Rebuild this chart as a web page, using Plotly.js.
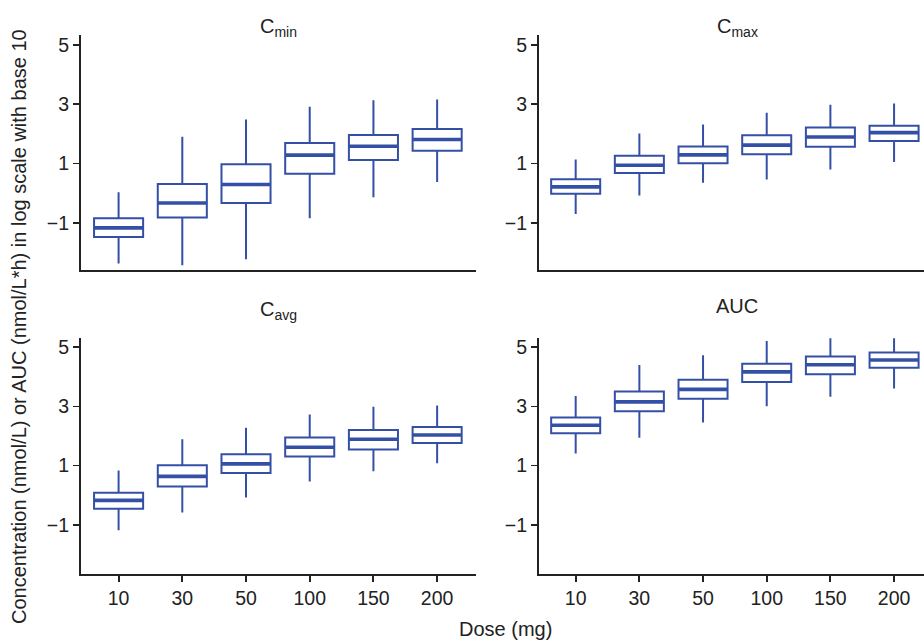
<!DOCTYPE html>
<html>
<head>
<meta charset="utf-8">
<script src="https://cdn.plot.ly/plotly-3.0.1.min.js"></script>
<style>html,body{margin:0;padding:0;background:#fff;}#chart{width:924px;height:643px;}</style>
</head>
<body>
<div id="chart"></div>
<script>
var doses = ['10', '30', '50', '100', '150', '200'];

var cminLow    = [-2.37, -2.43, -2.23, -0.85, -0.14, 0.38];
var cminQ1     = [-1.48, -0.82, -0.33, 0.65, 1.12, 1.43];
var cminMedian = [-1.17, -0.33, 0.29, 1.28, 1.58, 1.81];
var cminQ3     = [-0.85, 0.31, 0.97, 1.69, 1.96, 2.16];
var cminHigh   = [0.03, 1.90, 2.48, 2.91, 3.13, 3.16];

var cmaxLow    = [-0.70, -0.08, 0.35, 0.46, 0.80, 1.05];
var cmaxQ1     = [-0.02, 0.68, 1.01, 1.31, 1.56, 1.76];
var cmaxMedian = [0.21, 0.94, 1.29, 1.62, 1.89, 2.04];
var cmaxQ3     = [0.47, 1.26, 1.57, 1.95, 2.21, 2.27];
var cmaxHigh   = [1.13, 2.01, 2.31, 2.71, 2.98, 3.02];

var cavgLow    = [-1.18, -0.58, -0.07, 0.47, 0.81, 1.08];
var cavgQ1     = [-0.45, 0.30, 0.75, 1.31, 1.54, 1.76];
var cavgMedian = [-0.17, 0.64, 1.06, 1.62, 1.89, 2.03];
var cavgQ3     = [0.09, 1.01, 1.38, 1.95, 2.20, 2.30];
var cavgHigh   = [0.84, 1.89, 2.28, 2.72, 2.98, 3.03];

var aucLow     = [1.41, 1.94, 2.45, 3.00, 3.32, 3.60];
var aucQ1      = [2.09, 2.83, 3.25, 3.82, 4.08, 4.30];
var aucMedian  = [2.36, 3.15, 3.57, 4.16, 4.40, 4.56];
var aucQ3      = [2.62, 3.50, 3.89, 4.43, 4.68, 4.81];
var aucHigh    = [3.35, 4.39, 4.72, 5.20, 5.35, 5.35];

var yTickVals = [-1, 1, 3, 5];
var yTickText = ['\u22121', '1', '3', '5'];

var BLUE = '#3450a6';
var FONT = 'Liberation Sans, Arial, sans-serif';
var TXT = '#222222';

function boxTrace(xa, ya, lo, q1, med, q3, hi) {
  return {
    type: 'box', x: doses, q1: q1, median: med, q3: q3,
    lowerfence: lo, upperfence: hi,
    xaxis: xa, yaxis: ya, width: 0.77, whiskerwidth: 0,
    boxpoints: false, fillcolor: '#ffffff',
    line: {color: BLUE, width: 2}, hoverinfo: 'skip', showlegend: false
  };
}
function medTrace(xa, ya, med) {
  return {
    type: 'box', x: doses, q1: med, median: med, q3: med,
    lowerfence: med, upperfence: med,
    xaxis: xa, yaxis: ya, width: 0.77, whiskerwidth: 0,
    boxpoints: false, fillcolor: 'rgba(0,0,0,0)',
    line: {color: BLUE, width: 3.6}, hoverinfo: 'skip', showlegend: false
  };
}

var data = [
  boxTrace('x', 'y', cminLow, cminQ1, cminMedian, cminQ3, cminHigh),
  medTrace('x', 'y', cminMedian),
  boxTrace('x2', 'y2', cmaxLow, cmaxQ1, cmaxMedian, cmaxQ3, cmaxHigh),
  medTrace('x2', 'y2', cmaxMedian),
  boxTrace('x3', 'y3', cavgLow, cavgQ1, cavgMedian, cavgQ3, cavgHigh),
  medTrace('x3', 'y3', cavgMedian),
  boxTrace('x4', 'y4', aucLow, aucQ1, aucMedian, aucQ3, aucHigh),
  medTrace('x4', 'y4', aucMedian)
];

function xAxis(domain, range, anchor, showLabels) {
  return {
    domain: domain, range: range, anchor: anchor, type: 'category',
    showgrid: false, zeroline: false, showline: true, linecolor: '#222', linewidth: 2,
    ticks: showLabels ? 'outside' : '', ticklen: 6, tickwidth: 2, tickcolor: '#222',
    showticklabels: showLabels, tickfont: {family: FONT, size: 19.5, color: TXT},
    fixedrange: true
  };
}
function yAxis(domain, range, anchor) {
  return {
    domain: domain, range: range, anchor: anchor,
    showgrid: false, zeroline: false, showline: true, linecolor: '#222', linewidth: 2,
    ticks: 'outside', ticklen: 6, tickwidth: 1.5, tickcolor: '#222',
    tickmode: 'array', tickvals: yTickVals, ticktext: yTickText,
    tickfont: {family: FONT, size: 19.5, color: TXT}, fixedrange: true
  };
}

var xdL = [81 / 924, 476 / 924], xdR = [539 / 924, 1];
var ydT = [1 - 270 / 643, 1 - 35 / 643], ydB = [1 - 573.7 / 643, 1 - 338.3 / 643];

var layout = {
  width: 924, height: 643,
  margin: {l: 0, r: 0, t: 0, b: 0},
  paper_bgcolor: '#ffffff', plot_bgcolor: '#ffffff',
  font: {family: FONT, color: TXT},
  showlegend: false,
  xaxis: xAxis(xdL, [-0.59, 5.61], 'y', false),
  yaxis: yAxis(ydT, [-2.59, 5.33], 'x'),
  xaxis2: xAxis(xdR, [-0.576, 5.47], 'y2', false),
  yaxis2: yAxis(ydT, [-2.59, 5.33], 'x2'),
  xaxis3: xAxis(xdL, [-0.59, 5.61], 'y3', true),
  yaxis3: yAxis(ydB, [-2.64, 5.29], 'x3'),
  xaxis4: xAxis(xdR, [-0.576, 5.47], 'y4', true),
  yaxis4: yAxis(ydB, [-2.64, 5.29], 'x4'),
  annotations: [
    {text: 'C<sub>min</sub>', x: 278 / 924, y: 1 - 28 / 643, xref: 'paper', yref: 'paper', showarrow: false, xanchor: 'center', yanchor: 'middle', font: {family: FONT, size: 20, color: TXT}},
    {text: 'C<sub>max</sub>', x: 737 / 924, y: 1 - 28 / 643, xref: 'paper', yref: 'paper', showarrow: false, xanchor: 'center', yanchor: 'middle', font: {family: FONT, size: 20, color: TXT}},
    {text: 'C<sub>avg</sub>', x: 278 / 924, y: 1 - 310 / 643, xref: 'paper', yref: 'paper', showarrow: false, xanchor: 'center', yanchor: 'middle', font: {family: FONT, size: 20, color: TXT}},
    {text: 'AUC', x: 737 / 924, y: 1 - 306 / 643, xref: 'paper', yref: 'paper', showarrow: false, xanchor: 'center', yanchor: 'middle', font: {family: FONT, size: 20, color: TXT}},
    {text: 'Dose (mg)', x: 505 / 924, y: 1 - 629 / 643, xref: 'paper', yref: 'paper', showarrow: false, xanchor: 'center', yanchor: 'middle', font: {family: FONT, size: 20, color: TXT}},
    {text: 'Concentration (nmol/L) or AUC (nmol/L*h) in log scale with base 10', x: 19 / 924, y: 1 - 327 / 643, xref: 'paper', yref: 'paper', showarrow: false, xanchor: 'center', yanchor: 'middle', textangle: -90, font: {family: FONT, size: 20, color: TXT}}
  ]
};

Plotly.newPlot('chart', data, layout, {displayModeBar: false, staticPlot: true});
</script>
</body>
</html>
